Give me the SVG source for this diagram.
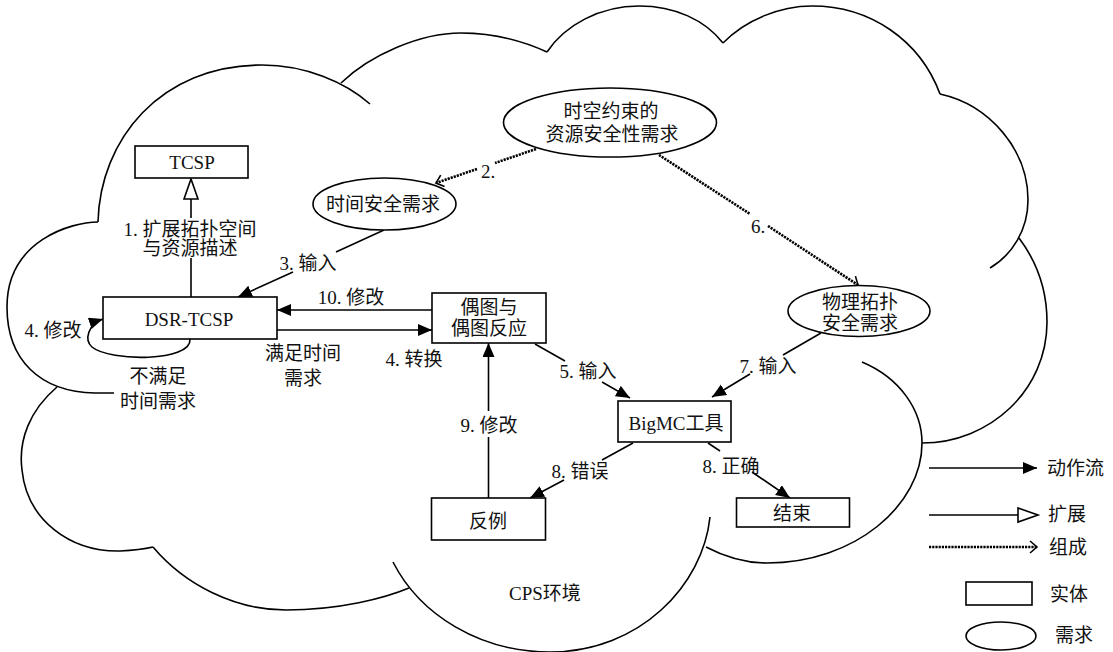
<svg xmlns="http://www.w3.org/2000/svg" width="1113" height="652" viewBox="0 0 1113 652">
<style>
.bg{fill:#fff}
.cloud{fill:none;stroke:#000;stroke-width:1.6}
.box{fill:#fff;stroke:#000;stroke-width:1.6}
.ln{fill:none;stroke:#000;stroke-width:1.6}
.dot{fill:none;stroke:#000;stroke-width:2.6;stroke-dasharray:2.2 1}
.t{font-family:"Liberation Serif","Noto Sans CJK SC",serif;font-size:19px;fill:#111;text-anchor:middle}
.s{text-anchor:start}
</style>
<defs>
<marker id="fa" markerUnits="userSpaceOnUse" markerWidth="16" markerHeight="14" refX="14" refY="6" orient="auto"><path d="M0,0 L14,6 L0,12 z" fill="#000"/></marker>
<marker id="ha" markerUnits="userSpaceOnUse" markerWidth="24" markerHeight="18" refX="21" refY="8" orient="auto"><path d="M1,1 L21,8 L1,15 z" fill="#fff" stroke="#000" stroke-width="1.6"/></marker>
<marker id="va" markerUnits="userSpaceOnUse" markerWidth="12" markerHeight="16" refX="8" refY="7" orient="auto"><path d="M1,1 L8,7 L1,13" fill="none" stroke="#000" stroke-width="1.6"/></marker>
</defs>
<rect class="bg" x="0" y="0" width="1113" height="652"/>
<g id="cloud">
<path class="cloud" d="M98,222 C72,222 7,240 7,307 C7,360 40,392 95,393 L114,393"/>
<path class="cloud" d="M57,387 C30,410 18,440 22,470 C27,520 70,552 120,551 Q140,550 153,547"/>
<path class="cloud" d="M153,547 C185,585 235,610 286,610 C340,610 385,598 409,588"/>
<path class="cloud" d="M710,517 C703,585 640,652 550,652 C480,652 420,615 393,562"/>
<path class="cloud" d="M862,362 C900,378 922,410 922,443 C922,505 855,563 767,563 C745,563 725,557 706,547"/>
<path class="cloud" d="M1019,238 C1037,262 1047,290 1047,322 C1047,390 990,443 922,443"/>
<path class="cloud" d="M940,94 C990,105 1028,150 1028,200 C1028,230 1012,255 990,268"/>
<path class="cloud" d="M723,43 C745,20 780,6 812,6 C870,6 920,40 940,94"/>
<path class="cloud" d="M547,52 C565,25 600,6 639,6 C675,6 705,20 723,43"/>
<path class="cloud" d="M341,83 C370,55 420,33 461,33 C495,33 525,42 547,52"/>
<path class="cloud" d="M98,222 C100,140 160,65 262,65 C305,65 345,82 370,104"/>
<text class="t s" x="509" y="600">CPS环境</text>
</g>
<g id="connectors">
<line class="ln" x1="191" y1="297" x2="191" y2="258"/>
<line class="ln" x1="191" y1="218" x2="191" y2="179" marker-end="url(#ha)"/>
<line class="dot" x1="536" y1="149" x2="495" y2="163"/>
<line class="dot" x1="477" y1="169" x2="436" y2="183" marker-end="url(#va)"/>
<line class="ln" x1="384" y1="230" x2="336" y2="252"/>
<line class="ln" x1="293" y1="272" x2="238" y2="297" marker-end="url(#fa)"/>
<line class="ln" x1="432" y1="310" x2="277" y2="310" marker-end="url(#fa)"/>
<line class="ln" x1="277" y1="330" x2="432" y2="330" marker-end="url(#fa)"/>
<path class="ln" d="M190,339 C192,362 110,362 92,347 C84,340 88,324 103,319" marker-end="url(#fa)"/>
<line class="ln" x1="488.5" y1="498" x2="488.5" y2="437"/>
<line class="ln" x1="488.5" y1="411" x2="488.5" y2="343" marker-end="url(#fa)"/>
<line class="ln" x1="535" y1="344" x2="565" y2="361"/>
<line class="ln" x1="602" y1="382" x2="630" y2="398" marker-end="url(#fa)"/>
<line class="dot" x1="659" y1="155" x2="750" y2="214"/>
<line class="dot" x1="768" y1="226" x2="858" y2="285" marker-end="url(#va)"/>
<line class="ln" x1="821" y1="333" x2="783" y2="355"/>
<line class="ln" x1="750" y1="374" x2="712" y2="397" marker-end="url(#fa)"/>
<line class="ln" x1="633" y1="443" x2="602" y2="460"/>
<line class="ln" x1="564" y1="480" x2="530" y2="498" marker-end="url(#fa)"/>
<line class="ln" x1="708" y1="443" x2="720" y2="451"/>
<line class="ln" x1="752" y1="472" x2="790" y2="498" marker-end="url(#fa)"/>
<text class="t" x="190" y="236">1. 扩展拓扑空间</text>
<text class="t" x="190" y="255">与资源描述</text>
<text class="t" x="488" y="178">2.</text>
<text class="t" x="308" y="270">3. 输入</text>
<text class="t" x="351" y="304">10. 修改</text>
<text class="t" x="303" y="360">满足时间</text>
<text class="t" x="303" y="385">需求</text>
<text class="t" x="414" y="366">4. 转换</text>
<text class="t" x="53" y="337">4. 修改</text>
<text class="t" x="158" y="383">不满足</text>
<text class="t" x="158" y="408">时间需求</text>
<text class="t" x="489" y="432">9. 修改</text>
<text class="t" x="588" y="378">5. 输入</text>
<text class="t" x="758" y="233">6.</text>
<text class="t" x="768" y="373">7. 输入</text>
<text class="t" x="580" y="478">8. 错误</text>
<text class="t" x="731" y="473">8. 正确</text>
</g>
<g id="n-tcsp"><rect class="box" x="135" y="146" width="113" height="32"/><text class="t" x="192" y="169">TCSP</text></g>
<g id="n-req"><ellipse class="box" cx="610" cy="122.5" rx="106.5" ry="34.5"/><text class="t" x="611" y="118">时空约束的</text><text class="t" x="612" y="141">资源安全性需求</text></g>
<g id="n-time"><ellipse class="box" cx="384.5" cy="204" rx="71.5" ry="26"/><text class="t" x="383" y="211">时间安全需求</text></g>
<g id="n-dsr"><rect class="box" x="103" y="297" width="174" height="42"/><text class="t" x="189" y="326">DSR-TCSP</text></g>
<g id="n-bigraph"><rect class="box" x="432" y="293" width="114" height="50"/><text class="t" x="489" y="314">偶图与</text><text class="t" x="489" y="335">偶图反应</text></g>
<g id="n-phys"><ellipse class="box" cx="859" cy="311" rx="71" ry="25.5"/><text class="t" x="860" y="309">物理拓扑</text><text class="t" x="860" y="330">安全需求</text></g>
<g id="n-bigmc"><rect class="box" x="618" y="401" width="113" height="41"/><text class="t" x="676" y="430">BigMC工具</text></g>
<g id="n-end"><rect class="box" x="736.5" y="498" width="113" height="29"/><text class="t" x="792" y="520">结束</text></g>
<g id="n-counter"><rect class="box" x="431.5" y="498" width="114" height="42"/><text class="t" x="488" y="528">反例</text></g>
<g id="legend">
<line class="ln" x1="929" y1="468" x2="1037" y2="468" marker-end="url(#fa)"/>
<text class="t s" x="1047" y="475">动作流</text>
<line class="ln" x1="929" y1="515" x2="1038" y2="515" marker-end="url(#ha)"/>
<text class="t s" x="1048" y="521">扩展</text>
<line class="dot" x1="929" y1="547" x2="1037" y2="547" marker-end="url(#va)"/>
<text class="t s" x="1049" y="554">组成</text>
<rect class="box" x="966" y="582" width="66" height="23"/>
<text class="t s" x="1050" y="601">实体</text>
<ellipse class="box" cx="1001" cy="636" rx="35" ry="14"/>
<text class="t s" x="1055" y="642">需求</text>
</g>
</svg>
